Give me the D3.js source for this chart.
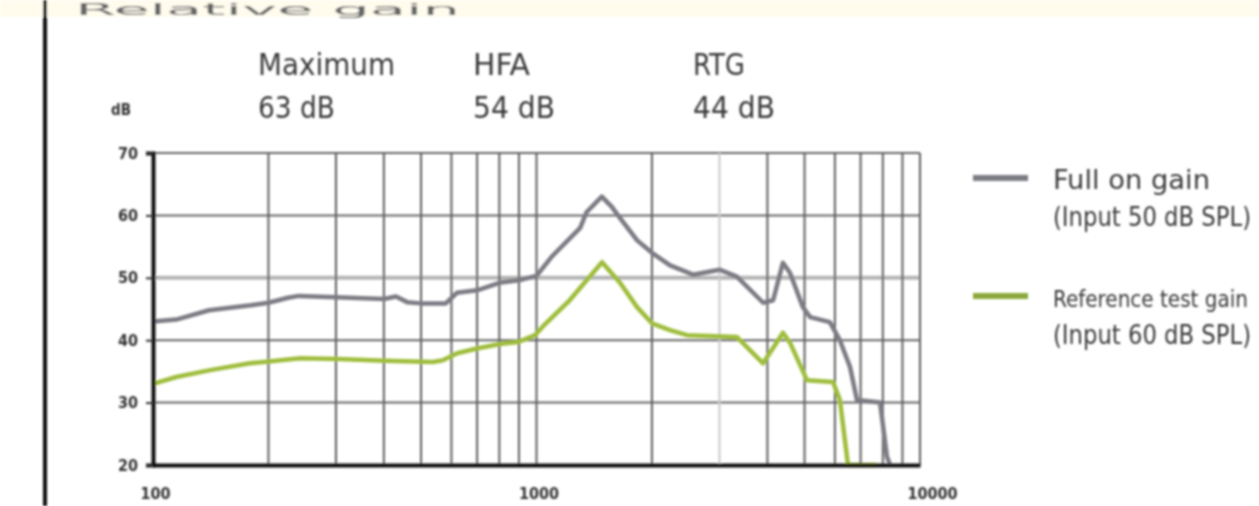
<!DOCTYPE html>
<html><head><meta charset="utf-8">
<script src="https://cdn.jsdelivr.net/npm/d3@7/dist/d3.min.js"></script>
<style>
html,body{margin:0;padding:0;background:#fff;overflow:hidden;}
svg{display:block;}
text{font-family:"Liberation Sans Narrow","DejaVu Sans Condensed","Liberation Sans",sans-serif;fill:#444;}
</style></head>
<body>
<svg id="c" width="1259" height="506"></svg>
<script>
// ---- data ----
const fullOnFreq = [100,115,140,180,200,225,240,300,400,430,460,500,580,620,700,800,900,1000,1100,1300,1350,1480,1570,1650,1830,2000,2230,2560,3000,3330,3900,4140,4390,4580,4950,5170,5820,6180,6570,6850,7870,8200,8360];
const fullOnGain = [43,43.3,44.8,45.6,46,46.8,47.1,46.9,46.6,47,46.1,45.9,45.9,47.6,48,49.2,49.6,50.3,53.5,58,60.5,63,61.4,59.6,56,54,52,50.5,51.3,50.2,46,46.4,52.4,50.8,45.3,43.7,42.9,40,35.7,30.4,30,21.3,20];
const refFreq = [100,115,141,179,200,242,304,403,537,570,621,704,803,895,991,1050,1220,1482,1651,1829,2000,2229,2468,3333,3898,4393,4581,5072,5933,6183,6490,7700];
const refGain = [33,34.1,35.2,36.3,36.6,37.1,37,36.7,36.5,36.8,37.9,38.7,39.4,39.7,40.8,42.5,46.4,52.5,49.2,45.3,42.7,41.6,40.8,40.5,36.3,41.2,39.6,33.6,33.3,30.4,20,20];
const yTicks = [20,30,40,50,60,70];
const xLabelTicks = [100,1000,10000];
const xGridDark = [200,300,400,500,600,700,800,900,1000,2000,4000,5000,6000,7000,8000,9000];
const xGridLight = [3000];
const summaryLabels = ["Maximum","HFA","RTG"];
const summaryValues = ["63 dB","54 dB","44 dB"];
const legendNames = ["Full on gain","Reference test gain"];
const legendSubs = ["(Input 50 dB SPL)","(Input 60 dB SPL)"];
const titleText = "Relative gain";

// ---- layout ----
const svg = d3.select("#c");
const x = d3.scaleLog().domain([100,10000]).range([153,920]);
const y = d3.scaleLinear().domain([20,70]).range([465,153]);
const grayC = "#7b7b84", greenC = "#9fbd3c";

const defs = svg.append("defs");
defs.append("filter").attr("id","blur").append("feGaussianBlur").attr("stdDeviation",0.9);

const root = svg.append("g").attr("filter","url(#blur)");

// top cream band
root.append("rect").attr("x",0).attr("y",0).attr("width",1259).attr("height",17).attr("fill","#fffcee");
// title
root.append("text").attr("x",75).attr("y",15).attr("font-size",15)
  .attr("textLength",385).attr("lengthAdjust","spacingAndGlyphs")
  .style("fill","#666").text(titleText);
// left page rule
root.append("line").attr("x1",45).attr("x2",45).attr("y1",0).attr("y2",506)
  .attr("stroke","#111").attr("stroke-width",4);

// grid
const g = root.append("g");
g.selectAll(".hg").data(yTicks.filter(d=>d>20)).join("line")
  .attr("x1",x(100)).attr("x2",x(10000)).attr("y1",d=>y(d)).attr("y2",d=>y(d))
  .attr("stroke",d=>d===50?"#b4b4b4":"#666").attr("stroke-width",d=>d===50?4:2);
g.selectAll(".vg").data(xGridDark.concat([10000])).join("line")
  .attr("x1",d=>x(d)).attr("x2",d=>x(d)).attr("y1",y(70)).attr("y2",y(20))
  .attr("stroke","#5e5e5e").attr("stroke-width",2);
g.selectAll(".vgl").data(xGridLight).join("line")
  .attr("x1",d=>x(d)).attr("x2",d=>x(d)).attr("y1",y(70)).attr("y2",y(20))
  .attr("stroke","#c8c8c8").attr("stroke-width",2);

// curves
const line = d3.line().x(d=>x(d[0])).y(d=>y(d[1])).curve(d3.curveLinear);
root.append("path").datum(refFreq.map((f,i)=>[f,refGain[i]]))
  .attr("d",line).attr("fill","none").attr("stroke",greenC).attr("stroke-width",4.5).attr("stroke-linejoin","round");
root.append("path").datum(fullOnFreq.map((f,i)=>[f,fullOnGain[i]]))
  .attr("d",line).attr("fill","none").attr("stroke",grayC).attr("stroke-width",4.5).attr("stroke-linejoin","round");

// axes
const yAxis = root.append("g").attr("transform",`translate(${x(100)},0)`)
  .call(d3.axisLeft(y).tickValues(yTicks).tickSize(7).tickFormat(d3.format("d")));
yAxis.select(".domain").attr("stroke","#111").attr("stroke-width",4);
yAxis.selectAll(".tick line").attr("stroke","#333").attr("stroke-width",2);
yAxis.selectAll(".tick text").attr("font-size",16).attr("font-weight","bold").attr("x",-15).style("fill","#333");

const xAxis = root.append("g").attr("transform",`translate(0,${y(20)})`)
  .call(d3.axisBottom(x).tickValues(xLabelTicks).tickSize(0).tickFormat(d3.format("d")));
xAxis.select(".domain").attr("stroke","#111").attr("stroke-width",4);
xAxis.selectAll(".tick text").attr("font-size",16).attr("font-weight","bold").attr("y",23)
  .attr("dx",(d,i)=>i===2?12:2).style("fill","#333");

// unit label
root.append("text").attr("x",121).attr("y",115).attr("font-size",15).attr("font-weight","bold")
  .attr("text-anchor","middle").style("fill","#333").text("dB");

// summary texts
const sx = [258,473,693];
root.selectAll(".sl").data(summaryLabels).join("text")
  .attr("x",(d,i)=>sx[i]).attr("y",75).attr("font-size",31)
  .attr("textLength",(d,i)=>[137,57,52][i]).attr("lengthAdjust","spacingAndGlyphs")
  .style("fill","#3a3a3a").text(d=>d);
root.selectAll(".sv").data(summaryValues).join("text")
  .attr("x",(d,i)=>sx[i]).attr("y",118).attr("font-size",31)
  .attr("textLength",(d,i)=>[77,82,82][i]).attr("lengthAdjust","spacingAndGlyphs")
  .style("fill","#3a3a3a").text(d=>d);

// legend
const ly = [178,296];
const lc = [grayC,"#8aa83a"];
const leg = root.selectAll(".lg").data(legendNames).join("g");
leg.append("line").attr("x1",973).attr("x2",1028).attr("y1",(d,i)=>ly[i]).attr("y2",(d,i)=>ly[i])
  .attr("stroke",(d,i)=>lc[i]).attr("stroke-width",6);
leg.append("text").attr("x",1053).attr("y",(d,i)=>ly[i]+11).attr("font-size",(d,i)=>[26,23][i])
  .attr("textLength",(d,i)=>[157,195][i]).attr("lengthAdjust","spacingAndGlyphs")
  .style("fill","#3a3a3a").text(d=>d);
leg.append("text").attr("x",1053).attr("y",(d,i)=>ly[i]+48).attr("font-size",26)
  .attr("textLength",198).attr("lengthAdjust","spacingAndGlyphs")
  .style("fill","#3a3a3a").text((d,i)=>legendSubs[i]);
</script>
</body></html>
